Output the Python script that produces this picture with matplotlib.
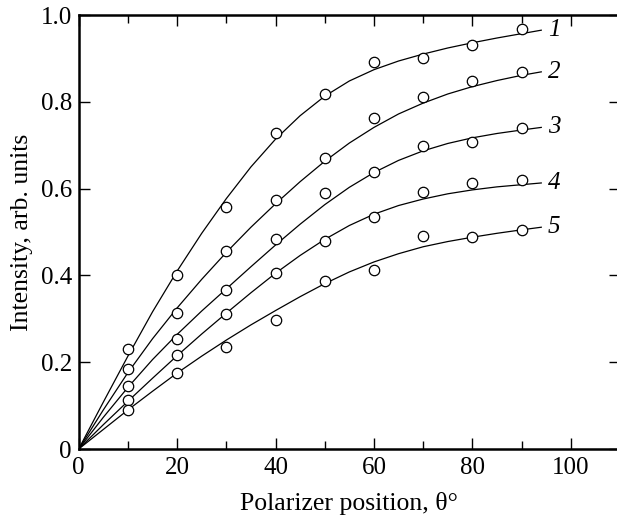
import numpy as np
import matplotlib
matplotlib.use('Agg')
import matplotlib.pyplot as plt
from matplotlib.ticker import MultipleLocator

plt.rcParams['font.family'] = ['Liberation Serif', 'DejaVu Serif']

# measured points (polarizer angle, degrees)
theta_pts = [10, 20, 30, 40, 50, 60, 70, 80, 90]
meas_1 = [0.230, 0.400, 0.558, 0.727, 0.817, 0.891, 0.900, 0.931, 0.968]
meas_2 = [0.184, 0.314, 0.457, 0.574, 0.670, 0.762, 0.810, 0.849, 0.868]
meas_3 = [0.145, 0.253, 0.366, 0.485, 0.591, 0.639, 0.698, 0.708, 0.739]
meas_4 = [0.113, 0.217, 0.310, 0.405, 0.480, 0.535, 0.593, 0.612, 0.620]
meas_5 = [0.090, 0.176, 0.236, 0.297, 0.386, 0.412, 0.491, 0.489, 0.505]

# fitted curves
theta_fit = [0, 5, 10, 15, 20, 25, 30, 35, 40, 45, 50, 55, 60, 65, 70, 75, 80, 85, 90, 94]
fit_1 = [0, 0.108, 0.214, 0.316, 0.410, 0.497, 0.577, 0.650, 0.714, 0.768, 0.813,
         0.848, 0.874, 0.894, 0.910, 0.924, 0.936, 0.947, 0.957, 0.965]
fit_2 = [0, 0.090, 0.176, 0.254, 0.325, 0.391, 0.453, 0.511, 0.565, 0.616, 0.663,
         0.705, 0.741, 0.772, 0.797, 0.818, 0.835, 0.849, 0.861, 0.869]
fit_3 = [0, 0.073, 0.142, 0.206, 0.264, 0.318, 0.369, 0.420, 0.470, 0.518, 0.563,
         0.603, 0.637, 0.665, 0.687, 0.704, 0.717, 0.727, 0.735, 0.741]
fit_4 = [0, 0.056, 0.110, 0.163, 0.215, 0.265, 0.313, 0.360, 0.405, 0.446, 0.483,
         0.515, 0.541, 0.561, 0.576, 0.588, 0.597, 0.604, 0.609, 0.613]
fit_5 = [0, 0.045, 0.090, 0.133, 0.175, 0.214, 0.251, 0.286, 0.319, 0.351, 0.381,
         0.408, 0.431, 0.450, 0.466, 0.478, 0.488, 0.497, 0.505, 0.511]

curve_labels = ['1', '2', '3', '4', '5']
label_x = 95.3

x_ticks = [0, 20, 40, 60, 80, 100]
y_ticks = [0, 0.2, 0.4, 0.6, 0.8, 1.0]
y_tick_labels = ['0', '0.2', '0.4', '0.6', '0.8', '1.0']

fig = plt.figure(figsize=(6.17, 5.15), dpi=100)
ax = fig.add_axes([78.7 / 617, 66 / 515, 541.3 / 617, 434 / 515])

meas = [meas_1, meas_2, meas_3, meas_4, meas_5]
fits = [fit_1, fit_2, fit_3, fit_4, fit_5]
for m, f, lab in zip(meas, fits, curve_labels):
    ax.plot(theta_fit, f, color='black', lw=0.9, zorder=2)
    ax.plot(theta_pts, m, 'o', ms=7.5, mfc='white', mec='black', mew=0.9, zorder=3)
    ax.text(label_x, f[-1], lab, fontsize=18, style='italic',
            ha='left', va='center')

ax.set_xlim(0, 110)
ax.set_ylim(0, 1.0)
ax.set_xticks(x_ticks)
ax.xaxis.set_minor_locator(MultipleLocator(10))
ax.set_yticks(y_ticks)
ax.set_yticklabels(y_tick_labels)

ax.tick_params(which='both', direction='in', top=True, right=True,
               labelsize=18, width=1.0)
ax.tick_params(axis='x', which='major', length=8, pad=6)
ax.tick_params(axis='x', which='minor', length=6)
ax.tick_params(axis='y', which='major', length=8, pad=5)
for s in ax.spines.values():
    s.set_linewidth(1.8)

ax.set_xlabel('Polarizer position, θ°', fontsize=18.5)
ax.set_ylabel('Intensity, arb. units', fontsize=18.5)
ax.xaxis.set_label_coords(0.5, -0.1)
ax.yaxis.set_label_coords(-0.085, 0.5)

fig.savefig('out.png', dpi=100)
